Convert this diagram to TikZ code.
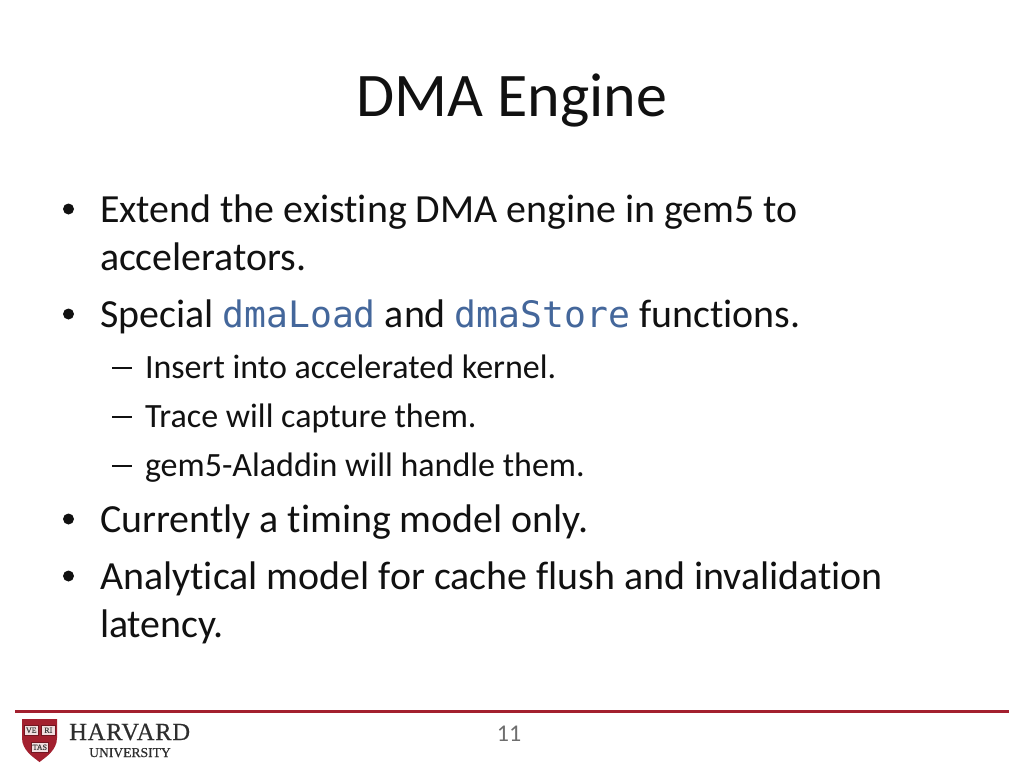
\documentclass[tikz,border=0pt]{standalone}
\usepackage{fontspec}
\setmainfont[Ligatures=NoCommon]{Carlito}
\setmonofont{DejaVu Sans Mono}
\newfontfamily\serifhv[LetterSpace=3,FakeBold=0.4]{Liberation Serif}
\newfontfamily\serifun[FakeBold=0.5]{Liberation Serif}
\definecolor{crimson}{HTML}{A3202F}
\definecolor{codeblue}{HTML}{44679B}
\definecolor{pagenum}{HTML}{6E6E6E}
\definecolor{darktxt}{HTML}{111111}
\definecolor{hvtext}{HTML}{2E2E2E}
\tikzset{
 x=1pt,y=-1pt,
 ln/.style={anchor=base west,inner sep=0pt,outer sep=0pt,text=darktxt},
 big/.style={ln,font=\fontsize{39.9}{40}\selectfont},
 dot/.style={anchor=center,inner sep=0pt,circle,fill=darktxt,minimum size=11pt},
 small/.style={ln,font=\fontsize{34}{34}\selectfont},
 dashmark/.style={anchor=center,inner sep=0pt,fill=darktxt,minimum width=19.5pt,minimum height=1.8pt},
 book/.style={fill=white!85!crimson,draw=crimson!70!black,line width=0.4pt},
 booktext/.style={inner sep=0pt,text=black!75,font=\fontsize{8}{8}\selectfont\serifun},
}
\newcommand{\code}[1]{{\fontsize{36.4}{36}\ttfamily\color{codeblue}#1}}
\begin{document}
\begin{tikzpicture}
\useasboundingbox (0,0) rectangle (1024,768);
\fill[white] (0,0) rectangle (1024,768);
\node[anchor=base,inner sep=0pt,text=darktxt,font=\fontsize{62}{62}\selectfont] (title) at (512,116.5) {DMA Engine};
\node[dot] (b1) at (68.5,209) {};
\node[big] (t1) at (100,222) {Extend the existing DMA engine in gem5 to};
\node[big] (t1b) at (100,270) {accelerators.};
\node[dot] (b2) at (68.5,314) {};
\node[big] (t2) at (100,327) {Special \code{dmaLoad} and \code{dmaStore} functions.};
\node[dashmark] (d1) at (122,368.3) {};
\node[small] (s1) at (145,378) {Insert into accelerated kernel.};
\node[dashmark] (d2) at (122,417.3) {};
\node[small] (s2) at (145,427) {Trace will capture them.};
\node[dashmark] (d3) at (122,466.3) {};
\node[small] (s3) at (145,476) {gem5-Aladdin will handle them.};
\node[dot] (b3) at (68.5,519) {};
\node[big] (t3) at (100,532) {Currently a timing model only.};
\node[dot] (b4) at (68.5,576) {};
\node[big] (t4) at (100,589) {Analytical model for cache flush and invalidation};
\node[big] (t4b) at (100,637) {latency.};
\draw[crimson,line width=3pt] (15,711) -- (1009,711);
\node[anchor=base,inner sep=0pt,text=pagenum,font=\fontsize{24}{24}\selectfont] (num) at (509,741) {11};
% Harvard shield
\fill[crimson] (22,719) -- (57,719) -- (57,738) .. controls (57,750) and (46,757) .. (39.5,762) .. controls (33,757) and (22,750) .. (22,738) -- cycle;
\fill[book] (24,725) rectangle (38.5,735.5);
\fill[book] (41,725) rectangle (55.5,735.5);
\fill[book] (31,742) rectangle (48.5,752.5);
\node[booktext] (ve) at (31.3,730.3) {VE};
\node[booktext] (ri) at (48.3,730.3) {RI};
\node[booktext] (tas) at (39.8,747.3) {TAS};
\node[anchor=base west,inner sep=0pt,text=hvtext,font=\fontsize{24.6}{24}\selectfont\serifhv] (hv) at (69,740) {HARVARD};
\node[anchor=base west,inner sep=0pt,text=hvtext,font=\fontsize{13.6}{14}\selectfont\serifun] (un) at (89,757) {UNIVERSITY};
\end{tikzpicture}
\end{document}
